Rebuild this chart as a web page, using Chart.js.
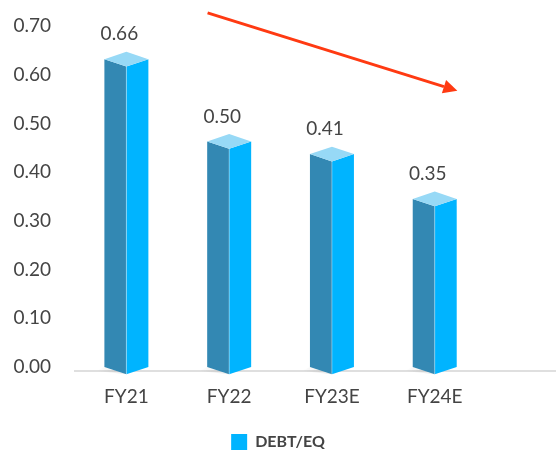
<!DOCTYPE html>
<html>
<head>
<meta charset="utf-8">
<script src="https://cdn.jsdelivr.net/npm/chart.js@4/dist/chart.umd.min.js"></script>
<style>
  html, body { margin: 0; padding: 0; background: #fff; }
  #wrap { width: 556px; height: 453px; }
</style>
</head>
<body>
<div id="wrap"><canvas id="debtChart"></canvas></div>
<script>
// data
var categories = ['FY21', 'FY22', 'FY23E', 'FY24E'];
var barHeights = [0.632, 0.463, 0.437, 0.345];      // heights of the drawn bars
var valueLabels = ['0.66', '0.50', '0.41', '0.35']; // numbers printed above bars
var yTicks = [0, 0.1, 0.2, 0.3, 0.4, 0.5, 0.6, 0.7];

var textGray = '#444444';

// draws each bar as a little square prism seen from the front corner
var prismBars = {
    id: 'prismBars',
    beforeDatasetsDraw: function (chart) {
        var ctx = chart.ctx;
        var xs = chart.scales.x, ys = chart.scales.y;
        var step = xs.getPixelForValue(1) - xs.getPixelForValue(0);
        var hw = step * 0.214;
        var d = hw / 3;
        var zero = ys.getPixelForValue(0);

        ctx.save();
        // floor line
        ctx.strokeStyle = '#d4d4d4';
        ctx.lineWidth = 1.5;
        ctx.beginPath();
        ctx.moveTo(chart.chartArea.left - 1, zero + 4);
        ctx.lineTo(chart.width, zero + 4);
        ctx.stroke();

        chart.getDatasetMeta(0).data.forEach(function (bar, i) {
            var cx = bar.x, top = bar.y, base = bar.base;

            // soft shadow on the floor
            var g = ctx.createLinearGradient(cx - hw - 8, 0, cx, 0);
            g.addColorStop(0, 'rgba(0,0,0,0)');
            g.addColorStop(1, 'rgba(0,0,0,0.10)');
            ctx.fillStyle = g;
            ctx.beginPath();
            ctx.moveTo(cx, base + d);
            ctx.lineTo(cx - hw - 8, base + 4);
            ctx.lineTo(cx - hw, base);
            ctx.closePath();
            ctx.fill();

            // left (shaded) face
            ctx.fillStyle = '#3388b3';
            ctx.beginPath();
            ctx.moveTo(cx - hw, top);
            ctx.lineTo(cx, top + d);
            ctx.lineTo(cx, base + d);
            ctx.lineTo(cx - hw, base);
            ctx.closePath();
            ctx.fill();

            // right (lit) face
            ctx.fillStyle = '#00b4ff';
            ctx.beginPath();
            ctx.moveTo(cx, top + d);
            ctx.lineTo(cx + hw, top);
            ctx.lineTo(cx + hw, base);
            ctx.lineTo(cx, base + d);
            ctx.closePath();
            ctx.fill();

            // top cap
            ctx.fillStyle = '#97d9f6';
            ctx.beginPath();
            ctx.moveTo(cx - hw, top);
            ctx.lineTo(cx, top - d);
            ctx.lineTo(cx + hw, top);
            ctx.lineTo(cx, top + d);
            ctx.closePath();
            ctx.fill();

            // front edge highlight
            ctx.strokeStyle = 'rgba(255,255,255,0.35)';
            ctx.lineWidth = 1;
            ctx.beginPath();
            ctx.moveTo(cx, top + d);
            ctx.lineTo(cx, base + d);
            ctx.stroke();

            // value label
            ctx.fillStyle = textGray;
            ctx.font = '19px Lato';
            ctx.textAlign = 'center';
            ctx.textBaseline = 'middle';
            ctx.fillText(valueLabels[i], cx - 7, top - 25);
        });

        // red trend arrow
        var x0 = xs.getPixelForValue(0.79), y0 = ys.getPixelForValue(0.727);
        var x1 = xs.getPixelForValue(3.22), y1 = ys.getPixelForValue(0.567);
        var ang = Math.atan2(y1 - y0, x1 - x0);
        var len = 14, half = 7;
        var bx = x1 - len * Math.cos(ang), by = y1 - len * Math.sin(ang);
        ctx.strokeStyle = '#ff3a12';
        ctx.fillStyle = '#ff3a12';
        ctx.lineWidth = 3;
        ctx.beginPath();
        ctx.moveTo(x0, y0);
        ctx.lineTo(bx, by);
        ctx.stroke();
        ctx.beginPath();
        ctx.moveTo(x1, y1);
        ctx.lineTo(bx + half * Math.sin(ang), by - half * Math.cos(ang));
        ctx.lineTo(bx - half * Math.sin(ang), by + half * Math.cos(ang));
        ctx.closePath();
        ctx.fill();

        ctx.restore();
        return false;
    }
};

document.addEventListener("DOMContentLoaded", function () {
    var ctx = document.getElementById('debtChart').getContext('2d');
    var debtChart = new Chart(ctx, {
        type: 'bar',
        data: {
            datasets: [{
                label: 'DEBT/EQ',
                data: categories.map(function (c, i) { return { x: i, y: barHeights[i] }; }),
                backgroundColor: '#00b4ff',
                borderWidth: 0
            }]
        },
        options: {
            responsive: true,
            maintainAspectRatio: false,
            animation: false,
            layout: { padding: { top: 26, left: 0, right: 0, bottom: -7 } },
            scales: {
                x: {
                    type: 'linear',
                    offset: false,
                    min: -0.5,
                    max: 4.18,
                    grid: { display: false, drawTicks: false },
                    border: { display: false },
                    afterBuildTicks: function (s) {
                        s.ticks = categories.map(function (c, i) { return { value: i }; });
                    },
                    afterFit: function (s) { s.height = 64; },
                    ticks: {
                        autoSkip: false,
                        maxRotation: 0,
                        padding: 18,
                        color: textGray,
                        font: { family: 'Lato', size: 19 },
                        callback: function (v) { return categories[v]; }
                    }
                },
                y: {
                    min: 0,
                    max: 0.7,
                    grid: { display: false, drawTicks: false },
                    border: { display: false },
                    afterBuildTicks: function (s) {
                        s.ticks = yTicks.map(function (v) { return { value: v }; });
                    },
                    afterFit: function (s) { s.width = 75; s.paddingTop = 0; s.paddingBottom = 0; },
                    ticks: {
                        padding: 24,
                        color: textGray,
                        font: { family: 'Lato', size: 19 },
                        callback: function (v) { return v.toFixed(2); }
                    }
                }
            },
            plugins: {
                tooltip: { enabled: false },
                legend: {
                    position: 'bottom',
                    labels: {
                        boxWidth: 16,
                        boxHeight: 16,
                        padding: 3,
                        color: textGray,
                        font: { family: 'Lato', size: 16, weight: 'bold' }
                    }
                }
            }
        },
        plugins: [prismBars]
    });
});
</script>
</body>
</html>
